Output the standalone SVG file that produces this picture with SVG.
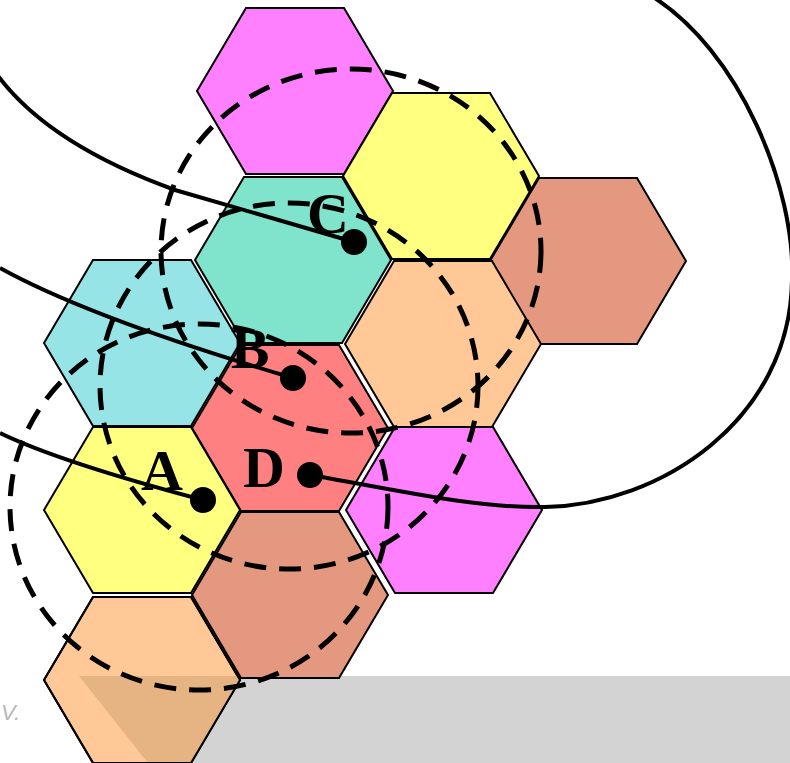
<svg xmlns="http://www.w3.org/2000/svg" xmlns:xlink="http://www.w3.org/1999/xlink" width="790" height="763" viewBox="0 0 790 763">
<style>
.hex{stroke:#000;stroke-width:2;stroke-linejoin:miter}
.mag{fill:#ff80ff}.yel{fill:#ffff80}.teal{fill:#80e4cc}.cyan{fill:#96e4e6}
.peach{fill:#ffc896}.salmon{fill:#e59880}.red{fill:#ff8080}
.dash{fill:none;stroke:#000;stroke-width:5;stroke-dasharray:22 13}
.wire{fill:none;stroke:#000;stroke-width:4}
.lbl{font-family:"Liberation Serif","Times New Roman",serif;font-weight:bold;font-size:58px;text-anchor:middle;fill:#000}
.dot{fill:#000}
</style>
<defs>
<polygon id="hex" points="-98,0 -49,-83 49,-83 98,0 49,83 -49,83"/>
</defs>
<rect x="0" y="0" width="790" height="763" fill="#fff"/>
<polygon id="band" points="79,676 790,676 790,763 148,763" fill="#d3d3d3"/>
<text x="1" y="720" font-family="Liberation Sans, Arial, sans-serif" font-size="22" font-style="italic" fill="#b8b8b8">V.</text>
<g id="hexes">
<g id="h-mag-top"><use xlink:href="#hex" href="#hex" class="hex mag" transform="translate(295,91)"/></g>
<g id="h-yel-top"><use xlink:href="#hex" href="#hex" class="hex yel" transform="translate(441,176)"/></g>
<g id="h-salmon-right"><use xlink:href="#hex" href="#hex" class="hex salmon" transform="translate(588,261)"/></g>
<g id="h-teal"><use xlink:href="#hex" href="#hex" class="hex teal" transform="translate(293,260)"/></g>
<g id="h-peach-mid"><use xlink:href="#hex" href="#hex" class="hex peach" transform="translate(443,344)"/></g>
<g id="h-cyan"><use xlink:href="#hex" href="#hex" class="hex cyan" transform="translate(142,343)"/></g>
<g id="h-red"><use xlink:href="#hex" href="#hex" class="hex red" transform="translate(290,428)"/></g>
<g id="h-mag-low"><use xlink:href="#hex" href="#hex" class="hex mag" transform="translate(444,510)"/></g>
<g id="h-yel-low"><use xlink:href="#hex" href="#hex" class="hex yel" transform="translate(142,510)"/></g>
<g id="h-salmon-low"><use xlink:href="#hex" href="#hex" class="hex salmon" transform="translate(290,595)"/></g>
<g id="h-peach-low"><use xlink:href="#hex" href="#hex" class="hex peach" transform="translate(142,680)"/>
<polygon points="79,676 238,676 240,680 191,763 148,763" fill="#e6b482"/>
<use xlink:href="#hex" href="#hex" fill="none" stroke="#000" stroke-width="2" transform="translate(142,680)"/></g>
</g>
<g id="ranges">
<ellipse class="dash" cx="199" cy="507" rx="189" ry="183"/>
<ellipse class="dash" cx="289" cy="386" rx="189" ry="183"/>
<ellipse class="dash" cx="351" cy="251" rx="190" ry="182"/>
</g>
<g id="connectors">
<path class="wire" d="M -2 76 Q 50 145 175 190 L 354 242"/>
<path class="wire" d="M 0 268 Q 90 318 293 378"/>
<path class="wire" d="M 0 433 Q 60 462 203 500"/>
<path class="wire" d="M 311 475 C 420 495 480 508 545 507 C 660 505 790 420 792 280 C 796 190 740 50 650 -5"/>
</g>
<g id="node-A"><text class="lbl" x="162" y="490">A</text><circle class="dot" cx="203" cy="500" r="13"/></g>
<g id="node-B"><text class="lbl" x="250" y="368">B</text><circle class="dot" cx="293" cy="378" r="13"/></g>
<g id="node-C"><text class="lbl" x="328" y="233">C</text><circle class="dot" cx="354" cy="242" r="13"/></g>
<g id="node-D"><text class="lbl" x="264" y="487">D</text><circle class="dot" cx="310" cy="475" r="13"/></g>
</svg>
